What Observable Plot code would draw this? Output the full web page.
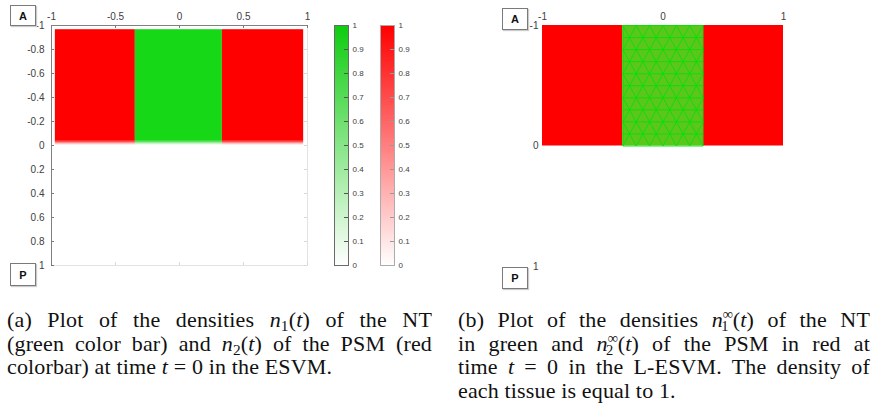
<!DOCTYPE html>
<html>
<head>
<meta charset="utf-8">
<script src="https://cdn.jsdelivr.net/npm/d3@7"></script>
<script src="https://cdn.jsdelivr.net/npm/@observablehq/plot@0.6"></script>
<style>
  html, body { margin: 0; padding: 0; background: #fff; }
  #fig { position: relative; width: 875px; height: 406px; overflow: hidden; background: #fff; }
  .abs { position: absolute; }
  .tag { position: absolute; box-sizing: border-box; border: 1px solid #7a7a7a; box-shadow: 1px 1px 1px #ccc;
         font: bold 11px "Liberation Sans", Arial, sans-serif; color: #111; display: flex; align-items: center; justify-content: center; background: #fff; }
  .cap { position: absolute; font-family: "Liberation Serif", "Times New Roman", serif; font-size: 22px; line-height: 23.6px; letter-spacing: 0.15px; color: #111; }
  .cap .ln { white-space: nowrap; text-align: justify; text-align-last: justify; }
  .cap .last { white-space: nowrap; text-align: left; text-align-last: left; }
  sub { font-size: 0.7em; vertical-align: -0.25em; line-height: 0; }
  .ss sup { font-size: 0.66em; vertical-align: 0.55em; line-height: 0; letter-spacing: 0; }
  .ss sub { font-size: 0.66em; vertical-align: -0.3em; line-height: 0; margin-left: -0.82em; margin-right: 0.3em; letter-spacing: 0; }
</style>
</head>
<body>
<div id="fig"></div>
<script>
// ---------- data ----------
// Panel (a): ESVM densities at t = 0
const bandStartA = [-0.97, -0.345, 0.335];
const bandEndA   = [-0.345, 0.335, 0.97];
const bandTissueA = ["PSM", "NT", "PSM"];
const bandTopA = -0.965;
const bandBottomA = -0.035;
const fadeTopA = [-0.035, -0.025, -0.015];
const fadeBottomA = [-0.025, -0.015, -0.005];
const fadeAlphaA = [0.7, 0.45, 0.2];
const xTicksA = [-1, -0.5, 0, 0.5, 1];
const yTicksA = [-1, -0.8, -0.6, -0.4, -0.2, 0, 0.2, 0.4, 0.6, 0.8, 1];
const colorbarTicks = [0, 0.1, 0.2, 0.3, 0.4, 0.5, 0.6, 0.7, 0.8, 0.9, 1];

// Panel (b): L-ESVM tissues at t = 0
const bandStartB = [-1, -1/3, 1/3];
const bandEndB   = [-1/3, 1/3, 1];
const bandTissueB = ["PSM", "NT", "PSM"];
const xTicksB = [-1, 0, 1];
const yTicksB = [-1, 0, 1];
// triangular mesh nodes of the NT region
const meshColsEven = [-0.333, -0.222, -0.111, 0, 0.111, 0.222, 0.333];
const meshColsOdd  = [-0.333, -0.278, -0.167, -0.056, 0.056, 0.167, 0.278, 0.333];
const meshRows = [-1, -0.9, -0.8, -0.7, -0.6, -0.5, -0.4, -0.3, -0.2, -0.1, 0];

const tissueColorA = {NT: "#17d817", PSM: "#ff0000"};
const tissueColorB = {NT: "#5cc61c", PSM: "#ff0000"};

// ---------- tables ----------
const bandsA = bandStartA.map((s, i) => ({x1: s, x2: bandEndA[i], tissue: bandTissueA[i]}));
const fadeA = [];
bandsA.forEach(b => fadeTopA.forEach((t, j) => fadeA.push({...b, y1: t, y2: fadeBottomA[j], a: fadeAlphaA[j]})));
const bandsB = bandStartB.map((s, i) => ({x1: s, x2: bandEndB[i], tissue: bandTissueB[i]}));
const meshNodes = [];
meshRows.forEach((y, r) => (r % 2 === 0 ? meshColsEven : meshColsOdd).forEach(x => meshNodes.push({x, y})));

const fig = document.getElementById("fig");
function place(el, left, top) { el.classList.add("abs"); el.style.left = left + "px"; el.style.top = top + "px"; fig.appendChild(el); }
const fmt = d => String(d);
const baseStyle = {fontFamily: "Liberation Sans, Arial, sans-serif", overflow: "visible", background: "transparent"};

// ---------- panel (a) ----------
const plotA = Plot.plot({
  width: 320, height: 270,
  marginLeft: 51, marginTop: 25, marginRight: 13, marginBottom: 5,
  style: baseStyle,
  x: {domain: [-1, 1], label: null},
  y: {domain: [-1, 1], reverse: true, label: null},
  marks: [
    Plot.rect(bandsA, {x1: "x1", x2: "x2", y1: bandTopA, y2: bandBottomA, fill: d => tissueColorA[d.tissue]}),
    Plot.rect(fadeA, {x1: "x1", x2: "x2", y1: "y1", y2: "y2", fill: d => tissueColorA[d.tissue], fillOpacity: "a"}),
    Plot.frame({stroke: "#e2e2e2"}),
    Plot.ruleX(xTicksA, {insetBottom: 237, stroke: "#777"}),
    Plot.ruleX(xTicksA, {insetTop: 237, stroke: "#d8d8d8"}),
    Plot.ruleY(yTicksA, {insetRight: 253, stroke: "#777"}),
    Plot.ruleY(yTicksA, {insetLeft: 253, stroke: "#d8d8d8"}),
    Plot.ruleX([-1], {stroke: "#808080"}),
    Plot.ruleY([-1], {stroke: "#808080"}),
    Plot.axisX(xTicksA, {anchor: "top", label: null, tickSize: 0, tickPadding: 6, tickFormat: fmt, fontSize: 10, fill: "#404040"}),
    Plot.axisY(yTicksA, {anchor: "left", label: null, tickSize: 0, tickPadding: 7, tickFormat: fmt, fontSize: 10, fill: "#404040"})
  ]
});
place(plotA, 0, 0);

function colorbar(top) {
  return Plot.plot({
    width: 50, height: 270,
    marginLeft: 14, marginRight: 22, marginTop: 25, marginBottom: 5,
    style: baseStyle,
    x: {domain: [0, 1], axis: null},
    y: {domain: [0, 1], label: null},
    color: {type: "linear", domain: [0, 1], range: ["#ffffff", top.color]},
    marks: [
      Plot.raster({fill: (x, y) => y, x1: 0, x2: 1, y1: 0, y2: 1, width: 1, height: 240}),
      Plot.ruleY(colorbarTicks, {insetLeft: 10, stroke: top.tick}),
      Plot.frame({stroke: top.border}),
      Plot.axisY(colorbarTicks, {anchor: "right", label: null, tickSize: 0, tickPadding: 4, tickFormat: fmt, fontSize: 8, fill: "#404040"})
    ]
  });
}
place(colorbar({color: "#10cc10", border: "#6a6a6a", tick: "#555"}), 320, 0);
place(colorbar({color: "#ff0000", border: "#ababab", tick: "#999"}), 366, 0);

// ---------- panel (b) ----------
const plotB = Plot.plot({
  width: 385, height: 276,
  marginLeft: 52, marginTop: 25, marginRight: 92, marginBottom: 10,
  style: baseStyle,
  x: {domain: [-1, 1], label: null},
  y: {domain: [-1, 1], reverse: true, label: null},
  marks: [
    Plot.rect(bandsB, {x1: "x1", x2: "x2", y1: -1, y2: 0, fill: d => tissueColorB[d.tissue]}),
    Plot.delaunayMesh(meshNodes, {x: "x", y: "y", stroke: "#06e006", strokeWidth: 1, strokeOpacity: 0.9}),
    Plot.axisX(xTicksB, {anchor: "top", label: null, tickSize: 0, tickPadding: 6, tickFormat: fmt, fontSize: 10, fill: "#404040"}),
    Plot.axisY(yTicksB, {anchor: "left", label: null, tickSize: 0, tickPadding: 4, tickFormat: fmt, fontSize: 10, fill: "#404040"})
  ]
});
place(plotB, 490, 0);

// ---------- tags ----------
function tag(txt, l, t, w, h) {
  const d = document.createElement("div");
  d.className = "tag"; d.textContent = txt;
  d.style.left = l + "px"; d.style.top = t + "px"; d.style.width = w + "px"; d.style.height = h + "px";
  fig.appendChild(d);
}
tag("A", 10, 5, 26, 21);
tag("P", 10, 263, 26, 23);
tag("A", 502, 8, 26, 22);
tag("P", 502, 267, 26, 22);

// ---------- captions ----------
const capA = document.createElement("div");
capA.className = "cap";
capA.style.left = "7px"; capA.style.top = "308px"; capA.style.width = "425px";
capA.innerHTML =
  '<div class="ln">(a) Plot of the densities <i>n</i><sub>1</sub>(<i>t</i>) of the NT</div>' +
  '<div class="ln">(green color bar) and <i>n</i><sub>2</sub>(<i>t</i>) of the PSM (red</div>' +
  '<div class="last">colorbar) at time <i>t</i> = 0 in the ESVM.</div>';
fig.appendChild(capA);

const capB = document.createElement("div");
capB.className = "cap";
capB.style.left = "458px"; capB.style.top = "308px"; capB.style.width = "412px";
capB.innerHTML =
  '<div class="ln">(b) Plot of the densities <i>n</i><span class="ss"><sup>∞</sup><sub>1</sub></span>(<i>t</i>) of the NT</div>' +
  '<div class="ln">in green and <i>n</i><span class="ss"><sup>∞</sup><sub>2</sub></span>(<i>t</i>) of the PSM in red at</div>' +
  '<div class="ln">time <i>t</i> = 0 in the L-ESVM. The density of</div>' +
  '<div class="last">each tissue is equal to 1.</div>';
fig.appendChild(capB);
</script>
</body>
</html>
